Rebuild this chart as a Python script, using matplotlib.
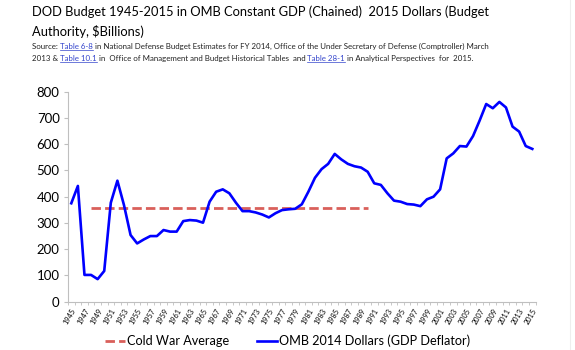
import numpy as np
import matplotlib.pyplot as plt
from matplotlib.lines import Line2D

plt.rcParams['font.family'] = ['Lato', 'DejaVu Sans']

# Dados (bilhões de dólares constantes de 2015)
years = list(range(1945, 2016))
omb = [375, 441, 102, 102, 86, 117, 377, 461, 368, 254,
       222, 237, 250, 250, 273, 267, 267, 307, 311, 309,
       301, 381, 419, 428, 413, 377, 345, 345, 340, 332,
       321, 337, 349, 352, 354, 371, 419, 472, 505, 525,
       563, 542, 525, 516, 511, 495, 451, 445, 413, 385,
       381, 372, 370, 364, 390, 400, 428, 546, 565, 593,
       591, 631, 690, 753, 737, 761, 740, 667, 648, 593,
       582]
cw_years = list(range(1948, 1991))
cw_avg = [356] * len(cw_years)

W, H = 575, 350
fig = plt.figure(figsize=(W / 100, H / 100), dpi=100)
ax = fig.add_axes([68 / W, 1 - 301.7 / H, (535.6 - 68) / W, 210 / H])

idx = {y: i for i, y in enumerate(years)}
x_omb = [idx[y] for y in years]
x_cw = [idx[y] for y in cw_years]

ax.plot(x_cw, cw_avg, color='#D9605B', linewidth=2.0, dashes=(3.4, 1.5),
        label='Cold War Average')
ax.plot(x_omb, omb, color='#0000FF', linewidth=1.9,
        label='OMB 2014 Dollars (GDP Deflator)')

ax.set_xlim(-0.5, len(years) - 0.5)
ax.set_ylim(0, 800)
ax.set_yticks(range(0, 801, 100))
ax.tick_params(axis='y', labelsize=9.5, length=3, color='#BFBFBF', pad=3)

ax.set_xticks(x_omb[::2])
ax.set_xticklabels([str(y) for y in years[::2]], rotation=60, ha='right',
                   rotation_mode='anchor', fontsize=5.3)
ax.set_xticks(np.arange(-0.5, len(years), 1), minor=True)
ax.tick_params(axis='x', which='major', length=0, pad=4)
ax.tick_params(axis='x', which='minor', length=2.5, color='#BFBFBF')

for s in ['top', 'right']:
    ax.spines[s].set_visible(False)
for s in ['left', 'bottom']:
    ax.spines[s].set_color('#BFBFBF')
    ax.spines[s].set_linewidth(0.8)

fig.legend(loc='center', bbox_to_anchor=(0.5, 1 - 341 / H), ncol=2,
           frameon=False, fontsize=9.1, handlelength=1.6, handletextpad=0.15,
           columnspacing=2.2)

fig.canvas.draw()
renderer = fig.canvas.get_renderer()


def fit_text(x, y, s, size, width, **kw):
    # ajusta o tamanho da fonte para ocupar a largura medida na imagem
    t = fig.text(x / W, y / H, s, fontsize=size, ha='left', **kw)
    w = t.get_window_extent(renderer).width
    t.set_fontsize(size * width / w)
    return t


# Título
t1 = fit_text(32, H - 12, 'DOD Budget 1945-2015 in OMB Constant GDP (Chained)  2015 Dollars (Budget',
              12.5, 462, va='center')
fig.text(32 / W, 1 - 31 / H, 'Authority, $Billions)',
         fontsize=t1.get_fontsize(), va='center', ha='left')

# Fonte (com links sublinhados)
src_lines = [
    [('Source: ', False), ('Table 6-8', True),
     (' in National Defense Budget Estimates for FY 2014, Office of the Under Secretary of Defense (Comptroller) March', False)],
    [('2013 & ', False), ('Table 10.1', True),
     (' in  Office of Management and Budget Historical Tables  and ', False),
     ('Table 28-1', True), (' in Analytical Perspectives  for  2015.', False)],
]
src_y = [H - 49, H - 61]

probe = fit_text(0, -50, ''.join(s for s, _ in src_lines[0]), 5.6, 455,
                 va='baseline')
src_size = probe.get_fontsize()
probe.remove()

for line, yb in zip(src_lines, src_y):
    xcur = 32
    for txt, link in line:
        color = '#3344CC' if link else '#222222'
        t = fig.text(xcur / W, yb / H, txt, fontsize=src_size, va='baseline',
                     ha='left', color=color)
        bb = t.get_window_extent(renderer)
        if link:
            fig.add_artist(Line2D([bb.x0 / W, bb.x1 / W],
                                  [(yb - 1.2) / H, (yb - 1.2) / H],
                                  transform=fig.transFigure, color=color,
                                  linewidth=0.5))
        xcur = bb.x1

# Borda clara à direita
fig.add_artist(Line2D([570 / W, 570 / W], [0, 1], transform=fig.transFigure,
                      color='#EEEEEE', linewidth=0.8))

fig.savefig('out.png', dpi=100)
